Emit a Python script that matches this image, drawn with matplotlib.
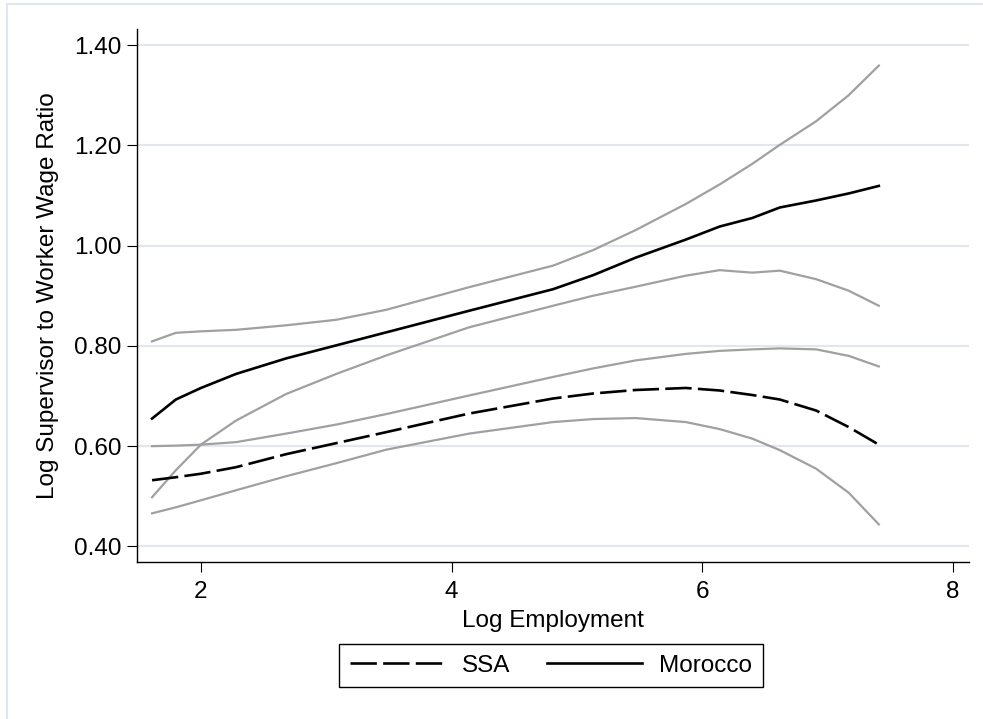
import matplotlib
matplotlib.use("Agg")
import matplotlib.pyplot as plt
from matplotlib.lines import Line2D
from matplotlib.patches import Rectangle

plt.rcParams['font.family'] = ['Liberation Sans', 'DejaVu Sans']
plt.rcParams['lines.scale_dashes'] = False

# lowess fits of log wage ratio on log employment, with 95% bands
log_emp = [1.61, 1.80, 2.00, 2.28, 2.68, 3.08, 3.48, 4.14, 4.81, 5.13,
           5.47, 5.87, 6.14, 6.40, 6.62, 6.91, 7.17, 7.41]

morocco = [0.655, 0.693, 0.716, 0.744, 0.775, 0.801, 0.827, 0.870, 0.913, 0.941,
           0.976, 1.012, 1.038, 1.055, 1.076, 1.090, 1.104, 1.119]
morocco_hi = [0.809, 0.826, 0.829, 0.832, 0.841, 0.852, 0.872, 0.917, 0.960, 0.991,
              1.031, 1.083, 1.122, 1.163, 1.201, 1.248, 1.300, 1.359]
morocco_lo = [0.498, 0.552, 0.603, 0.651, 0.704, 0.744, 0.781, 0.837, 0.880, 0.900,
              0.918, 0.940, 0.951, 0.946, 0.950, 0.933, 0.910, 0.880]

ssa = [0.532, 0.538, 0.545, 0.558, 0.584, 0.606, 0.628, 0.665, 0.695, 0.705,
       0.712, 0.716, 0.711, 0.702, 0.693, 0.671, 0.638, 0.603]
ssa_hi = [0.600, 0.601, 0.603, 0.608, 0.625, 0.643, 0.664, 0.701, 0.738, 0.755,
          0.771, 0.784, 0.790, 0.793, 0.795, 0.793, 0.780, 0.759]
ssa_lo = [0.466, 0.478, 0.492, 0.512, 0.540, 0.566, 0.593, 0.625, 0.648, 0.654,
          0.656, 0.648, 0.634, 0.615, 0.592, 0.555, 0.507, 0.444]

y_ticks = [0.40, 0.60, 0.80, 1.00, 1.20, 1.40]
x_ticks = [2, 4, 6, 8]

grey = '#a0a0a0'
grid_col = '#e1e6ef'
dash = (0, (19, 4.5))

fig = plt.figure(figsize=(9.83, 7.19), dpi=100)
fig.patches.append(Rectangle((7 / 983, -0.1), 1.2, 1 - 4 / 719 + 0.1,
                             transform=fig.transFigure, fill=False,
                             edgecolor=grid_col, linewidth=1.5))

ax = fig.add_axes([0.139, 0.2184, 0.8468, 0.7413])

for band in (morocco_hi, morocco_lo, ssa_hi, ssa_lo):
    ax.plot(log_emp, band, color=grey, linewidth=1.6, zorder=3)
ax.plot(log_emp, ssa, color='black', linewidth=1.9, linestyle=dash, zorder=4)
ax.plot(log_emp, morocco, color='black', linewidth=1.9, zorder=4)

ax.set_xlim(1.487, 8.13)
ax.set_ylim(0.369, 1.432)
ax.set_yticks(y_ticks)
ax.set_yticklabels([f"{v:.2f}" for v in y_ticks])
ax.set_xticks(x_ticks)
for v in y_ticks:
    ax.axhline(v, color=grid_col, linewidth=1.5, zorder=1)

for side in ('top', 'right'):
    ax.spines[side].set_visible(False)
for side in ('left', 'bottom'):
    ax.spines[side].set_linewidth(1.0)
ax.tick_params(axis='both', direction='out', length=7, width=0.8,
               labelsize=17.5, pad=4)
ax.tick_params(axis='x', pad=7)

ax.set_xlabel('Log Employment', fontsize=17.5, labelpad=5)
ax.set_ylabel('Log Supervisor to Worker Wage Ratio', fontsize=17.5, labelpad=11)

handles = [Line2D([], [], color='black', linewidth=1.9, linestyle=dash),
           Line2D([], [], color='black', linewidth=1.9)]
leg = fig.legend(handles, ['SSA', 'Morocco'], loc='center',
                 bbox_to_anchor=(551 / 983, 1 - 665.5 / 719), ncol=2,
                 fontsize=17.5, handlelength=3.9, handletextpad=0.7,
                 columnspacing=1.5, borderpad=0.45, fancybox=False,
                 framealpha=1, edgecolor='black')
leg.get_frame().set_linewidth(1.0)

plt.savefig('out.png', dpi=100)
